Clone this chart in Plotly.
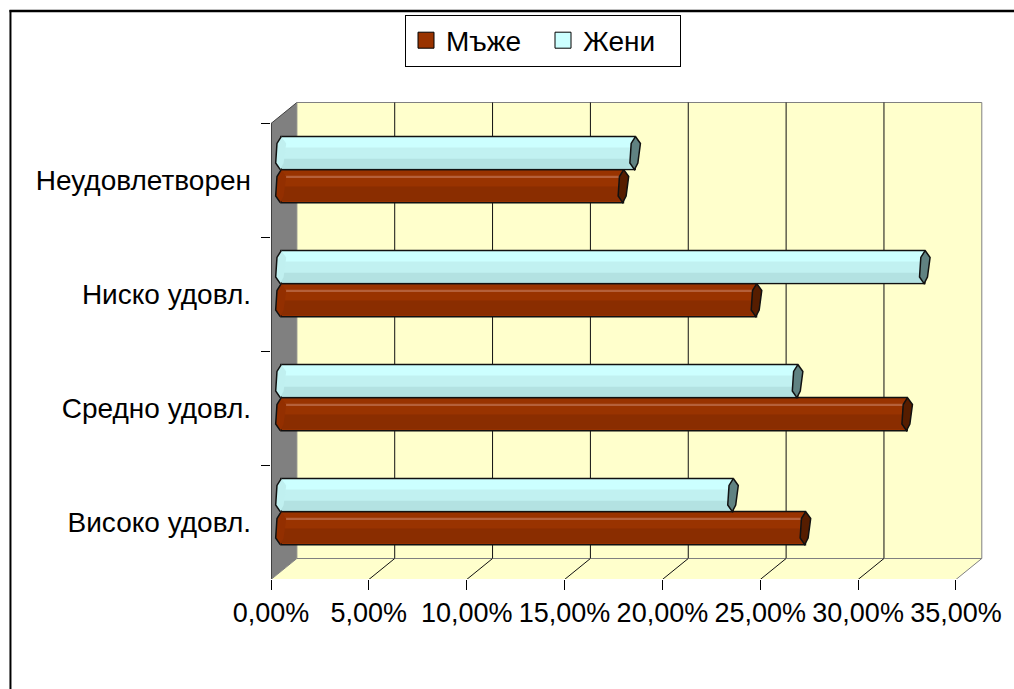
import plotly.graph_objects as go

# ---- data -------------------------------------------------------------
categories = ["Високо удовл.", "Средно удовл.", "Ниско удовл.", "Неудовлетворен"]
men = [26.8, 32.0, 24.3, 17.5]      # Мъже, %
women = [23.1, 26.4, 32.9, 18.1]    # Жени, %
series_names = ["Мъже", "Жени"]
x_ticks = [0, 5, 10, 15, 20, 25, 30, 35]
x_tick_labels = ["0,00%", "5,00%", "10,00%", "15,00%", "20,00%", "25,00%", "30,00%", "35,00%"]

# ---- geometry (pixels) --------------------------------------------------
W, H = 1014, 689
PLOT_L, PLOT_R, PLOT_T, PLOT_B = 271, 987, 101, 579
PX_PER_PCT = 19.68
PX_PER_CAT = 114.0
BAR_ZERO_PX = 281.0          # x pixel of 0 % in the bar plane
BAR_CAT0_PX = 511.6          # y pixel of first category centre in the bar plane
FRONT_SHIFT_PX = (-10.0, 10.9)   # bar plane -> front plane
DEPTH_PX = (26.0, -21.0)         # front plane -> back wall

# depth offsets in data units (x in %, y in category units)
fdx = FRONT_SHIFT_PX[0] / PX_PER_PCT
fdy = -FRONT_SHIFT_PX[1] / PX_PER_CAT
bdx = fdx + DEPTH_PX[0] / PX_PER_PCT
bdy = fdy - DEPTH_PX[1] / PX_PER_CAT

x_range = [(PLOT_L - BAR_ZERO_PX) / PX_PER_PCT, (PLOT_R - BAR_ZERO_PX) / PX_PER_PCT]
y_range = [(BAR_CAT0_PX - PLOT_B) / PX_PER_CAT, (BAR_CAT0_PX - PLOT_T) / PX_PER_CAT]

X_MAX = x_ticks[-1]
n_cat = len(categories)
y_lo, y_hi = -0.5, n_cat - 0.5
BAR_W = 0.29
px_y = 1.0 / PX_PER_CAT
px_x = 1.0 / PX_PER_PCT

FONT = "Arial, 'Liberation Sans', sans-serif"

colors = {
    "Мъже": dict(body="#993300", cap="#561D00", left="#932F00"),
    "Жени": dict(body="#CCFFFF", cap="#608282", left="#C0F0F0"),
}

fig = go.Figure()
ypos = list(range(n_cat))

# ---- bars with shading stripes -----------------------------------------
def add_bar(vals, offset, width, color, outline=False):
    fig.add_trace(go.Bar(
        y=ypos, x=vals, orientation="h", base=0,
        offset=offset, width=width,
        marker=dict(color=color,
                    line=dict(color="#111111", width=1.5 if outline else 0)),
        showlegend=False, hoverinfo="skip",
    ))

# Мъже (lower bar of each pair)
add_bar(men, -BAR_W, BAR_W, colors["Мъже"]["body"], outline=True)
add_bar(men, -BAR_W + 1.3 * px_y, 0.45 * BAR_W, "#8A2D00")
add_bar(men, -7.5 * px_y, 1.4 * px_y, "#B5603A")

# Жени (upper bar of each pair)
add_bar(women, 0, BAR_W, colors["Жени"]["body"], outline=True)
add_bar(women, BAR_W / 3, BAR_W / 3, "#C1F1F1")
add_bar(women, 1.3 * px_y, BAR_W / 3 - 1.3 * px_y, "#B3E2E2")

# ---- bar end caps -------------------------------------------------------
# hexagonal end face: (dx in px, fraction of bar height from top)
CAP = [(0.3, 0.0), (5.3, 0.21), (2.7, 0.8), (-0.7, 1.0), (-5.3, 0.8), (-4.0, 0.21)]
LEFT_EDGE = [(0.3, 0.0), (-4.0, 0.21), (-5.3, 0.8), (-0.7, 1.0)]


def cap_path(x_end, top, pts, close=True):
    xs, ys = [], []
    for dx, f in pts:
        xs.append(x_end + dx * px_x)
        ys.append(top - f * BAR_W)
    if close:
        xs.append(xs[0])
        ys.append(ys[0])
    return xs, ys


for name, vals, offset in (("Мъже", men, -BAR_W), ("Жени", women, 0.0)):
    lx, ly, ox, oy, rx, ry = [], [], [], [], [], []
    for k, v in enumerate(vals):
        top = k + offset + BAR_W
        a, b = cap_path(0.0, top, CAP)
        lx += a + [None]; ly += b + [None]
        a, b = cap_path(0.0, top, LEFT_EDGE, close=False)
        ox += a + [None]; oy += b + [None]
        a, b = cap_path(v, top, CAP)
        rx += a + [None]; ry += b + [None]
    fig.add_trace(go.Scatter(x=lx, y=ly, mode="lines", fill="toself",
                             fillcolor=colors[name]["left"], line=dict(width=0),
                             showlegend=False, hoverinfo="skip"))
    fig.add_trace(go.Scatter(x=ox, y=oy, mode="lines",
                             line=dict(color="#111111", width=1.5),
                             showlegend=False, hoverinfo="skip"))
    fig.add_trace(go.Scatter(x=rx, y=ry, mode="lines", fill="toself",
                             fillcolor=colors[name]["cap"],
                             line=dict(color="#111111", width=1.5),
                             showlegend=False, hoverinfo="skip"))

# legend entries
for name in series_names:
    fig.add_trace(go.Scatter(x=[None], y=[None], mode="markers", name=name,
                             marker=dict(symbol="square", size=16,
                                         color=colors[name]["body"],
                                         line=dict(color="#000000", width=1))))

# front-plane axes carry the tick marks and labels
fig.add_trace(go.Scatter(x=[None] * n_cat, y=categories, xaxis="x2", yaxis="y2",
                         mode="markers", showlegend=False, hoverinfo="skip"))

# ---- walls, floor and grid ---------------------------------------------
shapes = []


def path(pts):
    return "M " + " L ".join(f"{x},{y}" for x, y in pts) + " Z"


# side wall
shapes.append(dict(type="path", xref="x", yref="y", layer="below",
                   path=path([(fdx, y_lo + fdy), (fdx, y_hi + fdy),
                              (bdx, y_hi + bdy), (bdx, y_lo + bdy)]),
                   fillcolor="#808080", line=dict(width=0)))
shapes.append(dict(type="line", xref="x", yref="y", layer="below",
                   x0=fdx, y0=y_hi + fdy, x1=bdx, y1=y_hi + bdy,
                   line=dict(color="#404040", width=1)))
# back wall
shapes.append(dict(type="rect", xref="x", yref="y", layer="below",
                   x0=bdx, x1=X_MAX + bdx, y0=y_lo + bdy, y1=y_hi + bdy,
                   fillcolor="#FFFFCC", line=dict(color="#808080", width=1)))
for t in x_ticks[1:-1]:
    shapes.append(dict(type="line", xref="x", yref="y", layer="below",
                       x0=t + bdx, x1=t + bdx, y0=y_lo + bdy, y1=y_hi + bdy,
                       line=dict(color="#101010", width=1)))
# floor
shapes.append(dict(type="path", xref="x", yref="y", layer="below",
                   path=path([(fdx, y_lo + fdy), (X_MAX + fdx, y_lo + fdy),
                              (X_MAX + bdx, y_lo + bdy), (bdx, y_lo + bdy)]),
                   fillcolor="#FFFFCC", line=dict(color="#808080", width=1)))
for t in x_ticks[1:-1]:
    shapes.append(dict(type="line", xref="x", yref="y", layer="below",
                       x0=t + fdx, y0=y_lo + fdy, x1=t + bdx, y1=y_lo + bdy,
                       line=dict(color="#101010", width=1)))
# value axis line on the front left edge
shapes.append(dict(type="line", xref="x", yref="y", layer="below",
                   x0=fdx, y0=y_lo + fdy, x1=fdx, y1=y_hi + fdy,
                   line=dict(color="#000000", width=1)))


# outer chart frame (top and left edges)
def paper_x(px):
    return (px - PLOT_L) / (PLOT_R - PLOT_L)


def paper_y(py):
    return (PLOT_B - py) / (PLOT_B - PLOT_T)


shapes.append(dict(type="line", xref="paper", yref="paper",
                   x0=paper_x(8), x1=paper_x(1020), y0=paper_y(11), y1=paper_y(11),
                   line=dict(color="#000000", width=2.5)))
shapes.append(dict(type="line", xref="paper", yref="paper",
                   x0=paper_x(9), x1=paper_x(9), y0=paper_y(10), y1=paper_y(700),
                   line=dict(color="#000000", width=2)))

fig.update_layout(
    width=W, height=H,
    margin=dict(l=PLOT_L, r=W - PLOT_R, t=PLOT_T, b=H - PLOT_B, pad=0),
    paper_bgcolor="#FFFFFF", plot_bgcolor="rgba(0,0,0,0)",
    barmode="overlay",
    font=dict(family=FONT, size=27, color="#000000"),
    shapes=shapes,
    xaxis=dict(range=x_range, visible=False, fixedrange=True),
    yaxis=dict(range=y_range, visible=False, fixedrange=True),
    xaxis2=dict(overlaying="x", anchor="y2", side="bottom",
                range=[r - fdx for r in x_range],
                tickmode="array", tickvals=x_ticks, ticktext=x_tick_labels,
                ticks="outside", ticklen=10, tickcolor="#000000", tickwidth=1,
                showline=False, showgrid=False, zeroline=False,
                tickfont=dict(family=FONT, size=27), ticklabelstandoff=0),
    yaxis2=dict(overlaying="y", anchor="x2", side="left",
                range=[r - fdy for r in y_range],
                tickmode="array", tickvals=list(range(n_cat)), ticktext=categories,
                ticks="", showline=False, showgrid=False, zeroline=False,
                minor=dict(tickmode="array",
                           tickvals=[k - 0.5 for k in range(n_cat + 1)],
                           ticks="outside", ticklen=9, tickcolor="#000000",
                           showgrid=False),
                tickfont=dict(family=FONT, size=28), ticklabelstandoff=19),
    legend=dict(orientation="h", xref="container", yref="container",
                x=543 / W, y=1 - 40.5 / H, xanchor="center", yanchor="middle",
                bgcolor="#FFFFFF", bordercolor="#000000", borderwidth=1,
                font=dict(family=FONT, size=28), itemsizing="trace",
                itemwidth=30, entrywidth=92, tracegroupgap=0),
)

fig.write_html("out.html")
